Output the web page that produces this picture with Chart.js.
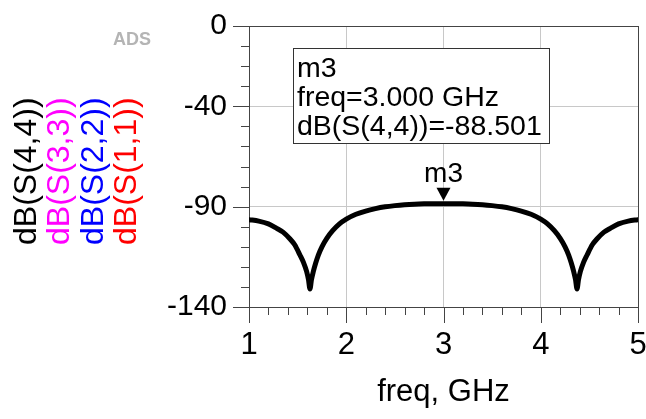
<!DOCTYPE html>
<html>
<head>
<meta charset="utf-8">
<script src="https://cdn.jsdelivr.net/npm/chart.js@4.4.1/dist/chart.umd.min.js"></script>
<style>
  html, body { margin: 0; padding: 0; background: #fff; }
  #wrap { width: 646px; height: 419px; position: relative; }
</style>
</head>
<body>
<div id="wrap"><canvas id="chart"></canvas></div>
<script>
// ---------------- data ----------------
const freqGHz = [
  1.0, 1.1, 1.2, 1.285, 1.35, 1.42, 1.47, 1.524, 1.56, 1.593, 1.612, 1.627,
  1.642, 1.661, 1.685, 1.713, 1.75, 1.8, 1.86, 1.93, 2.0, 2.1, 2.2, 2.3,
  2.4, 2.5, 2.6, 2.7, 2.8, 2.9, 3.0,
  3.1, 3.2, 3.3, 3.4, 3.5, 3.6, 3.7, 3.8, 3.9, 4.0, 4.07, 4.14, 4.2, 4.25,
  4.287, 4.315, 4.339, 4.358, 4.373, 4.388, 4.407, 4.44, 4.476, 4.53, 4.58,
  4.65, 4.715, 4.8, 4.9, 5.0
];
const dbS44 = [
  -96.5, -97.2, -98.6, -100.8, -102.7, -106.0, -109.0, -114.1, -117.8, -122.4, -126.5, -131.0,
  -126.5, -122.4, -118.2, -114.1, -110.0, -105.8, -102.0, -98.6, -96.2, -93.8, -92.2, -91.0,
  -90.1, -89.5, -89.05, -88.75, -88.58, -88.51, -88.501,
  -88.51, -88.58, -88.75, -89.05, -89.5, -90.1, -91.0, -92.2, -93.8, -96.2, -98.6, -102.0, -105.8, -110.0,
  -114.1, -118.2, -122.4, -126.5, -131.0, -126.5, -122.4, -117.8, -114.1, -109.0, -106.0,
  -102.7, -100.8, -98.6, -97.2, -96.5
];

const xMajorTicks = [1, 2, 3, 4, 5];
const yMajorTicks = [0, -40, -90, -140];
const xGridAt     = [2, 3, 4];
const yGridAt     = [-40, -90];

const traceNames  = ["dB(S(4,4))", "dB(S(3,3))", "dB(S(2,2))", "dB(S(1,1))"];
const traceColors = ["#000000", "#ff00ff", "#0000ff", "#ff0000"];

const markerName = "m3";
const markerFreq = 3.0;
const markerDb   = -88.501;

// ---------------- helpers ----------------
const FONT = "'Liberation Sans', Arial, sans-serif";
const AXIS_COLOR = "#444";
const GRID_COLOR = "#c8c8c8";

function near(list, v) {
  return list.some(t => Math.abs(t - v) < 1e-6);
}

// minor ticks, plot frame, marker and the rotated trace names
const adsDecor = {
  id: "adsDecor",
  beforeDatasetsDraw(chart) {
    const { ctx, chartArea: a, scales: { x, y } } = chart;
    ctx.save();
    ctx.strokeStyle = AXIS_COLOR;
    ctx.lineWidth = 1;
    ctx.beginPath();
    // x ticks every 0.2 GHz, outward
    for (let i = 0; i <= 20; i++) {
      const v = 1 + i * 0.2;
      const px = Math.round(x.getPixelForValue(v)) + 0.5;
      const len = near(xMajorTicks, v) ? 16 : 8;
      ctx.moveTo(px, a.bottom);
      ctx.lineTo(px, a.bottom + len);
    }
    // y ticks every 10 dB, outward
    for (let v = 0; v >= -140; v -= 10) {
      const py = Math.round(y.getPixelForValue(v)) + 0.5;
      const len = near(yMajorTicks, v) ? 16 : 8;
      ctx.moveTo(a.left, py);
      ctx.lineTo(a.left - len, py);
    }
    ctx.stroke();
    ctx.strokeRect(Math.round(a.left) + 0.5, Math.round(a.top) + 0.5,
                   Math.round(a.right - a.left), Math.round(a.bottom - a.top));
    ctx.restore();
  },
  afterDatasetsDraw(chart) {
    const { ctx, scales: { x, y } } = chart;
    ctx.save();

    // marker triangle on the trace
    const mx = x.getPixelForValue(markerFreq);
    const my = y.getPixelForValue(markerDb) - 3;
    ctx.fillStyle = "#000";
    ctx.beginPath();
    ctx.moveTo(mx, my);
    ctx.lineTo(mx - 7, my - 13);
    ctx.lineTo(mx + 7, my - 13);
    ctx.closePath();
    ctx.fill();
    ctx.font = "28px " + FONT;
    ctx.textAlign = "center";
    ctx.textBaseline = "alphabetic";
    ctx.fillText(markerName, mx, my - 19);

    // marker readout box
    ctx.fillStyle = "#fff";
    ctx.fillRect(294, 49, 255, 94);
    ctx.strokeStyle = "#333";
    ctx.lineWidth = 1;
    ctx.strokeRect(293.5, 48.5, 256, 95);
    ctx.fillStyle = "#000";
    ctx.textAlign = "left";
    ctx.font = "28.5px " + FONT;
    const lines = [
      markerName,
      "freq=" + markerFreq.toFixed(3) + " GHz",
      traceNames[0] + "=" + markerDb.toFixed(3)
    ];
    lines.forEach((t, i) => ctx.fillText(t, 297, 77 + i * 29));

    // rotated trace names on the left
    ctx.font = "32px " + FONT;
    traceNames.forEach((name, i) => {
      ctx.save();
      ctx.translate(36 + i * 33.3, 245);
      ctx.rotate(-Math.PI / 2);
      ctx.fillStyle = traceColors[i];
      ctx.textAlign = "left";
      ctx.fillText(name, 0, 0);
      ctx.restore();
    });

    // ADS tag
    ctx.fillStyle = "#b4b4b4";
    ctx.font = "bold 18px " + FONT;
    ctx.textAlign = "left";
    ctx.fillText("ADS", 113, 45);
    ctx.restore();
  }
};

// ---------------- chart ----------------
new Chart(document.getElementById("chart"), {
  type: "line",
  data: {
    datasets: [{
      label: traceNames[0],
      data: freqGHz.map((f, i) => ({ x: f, y: dbS44[i] })),
      borderColor: traceColors[0],
      borderWidth: 5,
      borderCapStyle: "round",
      borderJoinStyle: "round",
      pointRadius: 0,
      cubicInterpolationMode: "monotone",
      fill: false
    }]
  },
  options: {
    responsive: true,
    maintainAspectRatio: false,
    animation: false,
    events: [],
    layout: { padding: { top: 26, right: 8, left: 0, bottom: 0 }, autoPadding: false },
    plugins: { legend: { display: false }, tooltip: { enabled: false } },
    scales: {
      x: {
        type: "linear",
        min: 1,
        max: 5,
        afterBuildTicks: s => { s.ticks = xMajorTicks.map(v => ({ value: v })); },
        afterFit: s => { s.height = 112; s.paddingLeft = 0; s.paddingRight = 0; },
        ticks: {
          color: "#000",
          font: { family: FONT, size: 31 },
          padding: 20,
          maxRotation: 0,
          autoSkip: false
        },
        grid: {
          drawTicks: false,
          color: c => near(xGridAt, c.tick.value) ? GRID_COLOR : "rgba(0,0,0,0)"
        },
        border: { display: false },
        title: {
          display: true,
          text: "freq, GHz",
          color: "#000",
          font: { family: FONT, size: 31 },
          padding: { top: 0, bottom: 8 }
        }
      },
      y: {
        min: -140,
        max: 0,
        afterBuildTicks: s => { s.ticks = yMajorTicks.map(v => ({ value: v })); },
        afterFit: s => { s.width = 249; s.paddingTop = 0; s.paddingBottom = 0; },
        ticks: {
          color: "#000",
          font: { family: FONT, size: 30 },
          padding: 22,
          autoSkip: false
        },
        grid: {
          drawTicks: false,
          color: c => near(yGridAt, c.tick.value) ? GRID_COLOR : "rgba(0,0,0,0)"
        },
        border: { display: false }
      }
    }
  },
  plugins: [adsDecor]
});
</script>
</body>
</html>
